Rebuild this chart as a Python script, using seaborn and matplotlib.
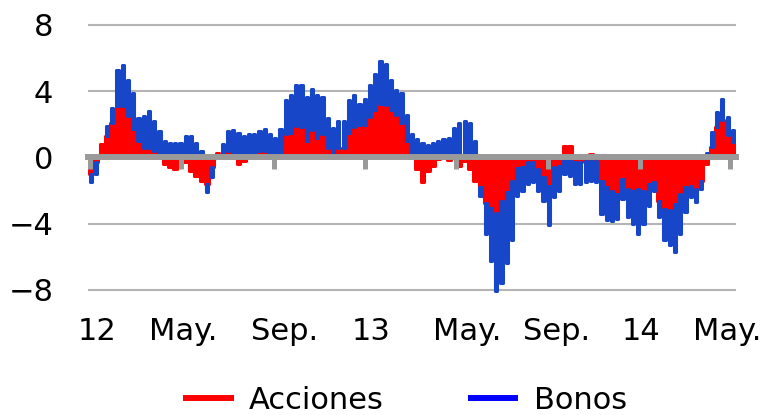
import numpy as np
import pandas as pd
import matplotlib
matplotlib.use("Agg")
import matplotlib.pyplot as plt
import seaborn as sns
from matplotlib.lines import Line2D

# ---------------- data (weekly, starting first week of 2012) ----------------
start_date = "2012-01-02"
acciones = [-1.0, -0.3, 0.8, 1.3, 2.1, 3.1, 3.1, 2.5, 1.7, 1.0,
            0.6, 0.6, 0.4, 0.2, -0.4, -0.6, -0.7, -0.5, -0.3, -0.8,
            -1.1, -1.4, -1.6, -0.6, 0.3, 0.0, 0.4, 0.05, -0.4, -0.2,
            0.0, 0.0, 0.4, 0.4, 0.2, 0.1, 0.0, 1.4, 1.5, 1.9,
            1.85, 1.0, 1.65, 1.2, 1.4, 0.6, 0.0, 0.6, 0.6, 1.5,
            1.85, 1.95, 1.95, 2.45, 2.85, 3.25, 3.15, 2.85, 2.55, 2.1,
            1.0, 0.0, -0.7, -1.5, -0.8, -0.5, -0.1, 0.0, -0.15, 0.0,
            -0.5, -0.2, -0.7, -1.4, -1.8, -2.75, -3.05, -3.35, -2.6, -2.1,
            -1.4, -0.65, -0.6, -0.3, -0.3, -0.7, -1.2, -1.7, -0.6, -0.5,
            0.7, 0.7, -0.3, -0.3, -0.2, 0.2, -0.2, -1.4, -1.8, -2.0,
            -2.2, -1.3, -1.9, -2.0, -1.9, -2.0, -1.6, -1.5, -2.6, -3.1,
            -3.2, -2.8, -2.2, -1.8, -1.7, -1.9, -1.4, -0.4, 0.63, 1.84,
            2.24, 1.33, 0.93]
bonos = [-0.5, -0.7, 0.0, 0.6, 0.9, 2.2, 2.5, 2.2, 2.2, 1.4,
         1.9, 2.2, 1.8, 1.4, 1.0, 0.9, 0.9, 0.9, 1.3, 1.3,
         0.85, 0.4, -0.5, -0.6, 0.0, 0.8, 1.2, 1.6, 1.5, 1.3,
         1.4, 1.4, 1.2, 1.3, 1.2, 1.1, 1.7, 2.05, 2.25, 2.5,
         2.5, 2.65, 2.5, 2.55, 2.25, 1.8, 1.75, 1.6, 1.6, 1.95,
         1.9, 1.3, 1.6, 1.9, 2.2, 2.6, 2.5, 1.8, 1.5, 1.8,
         1.55, 1.4, 1.1, 0.9, 0.75, 0.9, 1.0, 1.1, 1.2, 1.75,
         2.1, 2.2, 2.1, 1.0, -0.5, -1.9, -3.2, -4.7, -5.0, -4.3,
         -3.6, -1.65, -1.4, -1.3, -1.2, -1.3, -1.4, -2.4, -1.8, -1.5,
         -1.0, -1.1, -1.3, -1.3, -1.3, -1.4, -1.3, -2.0, -2.0, -1.85,
         -1.5, -1.2, -1.7, -2.0, -2.75, -2.0, -1.3, -0.5, -1.0, -1.9,
         -2.1, -2.9, -2.4, -1.5, -0.7, -0.8, -0.5, 0.3, 0.9, 0.9,
         1.3, 1.1, 0.7]
tick_dates = ["2012-01-01", "2012-05-01", "2012-09-01", "2013-01-01",
              "2013-05-01", "2013-09-01", "2014-01-01", "2014-05-01"]
label_dates = ["2012-01-10", "2012-05-04", "2012-09-16", "2013-01-09",
               "2013-05-16", "2013-09-13", "2014-01-03", "2014-04-27"]
tick_labels = ["12", "May.", "Sep.", "13", "May.", "Sep.", "14", "May."]
y_ticks = [-8, -4, 0, 4, 8]
series_names = ["Acciones", "Bonos"]

# ---------------- styling ----------------
sns.set_style("white")
plt.rcParams["font.family"] = ["DejaVu Sans"]
plt.rcParams["text.color"] = "black"
plt.rcParams["xtick.color"] = "black"
plt.rcParams["ytick.color"] = "black"
RED = "#FF0000"
BLUE = "#1846C8"
LEG_BLUE = "#0000FF"
GREY = "#9A9A9A"
GRID = "#B4B4B4"
FS = 22

start = pd.Timestamp(start_date)
def to_week(d):
    return (pd.Timestamp(d) - start).days / 7.0

df = pd.DataFrame({"x": np.arange(len(acciones)),
                   "acciones": acciones, "bonos": bonos})
same = np.sign(df["bonos"]) == np.sign(df["acciones"])
df["base"] = np.where(same, df["acciones"], 0.0)

fig = plt.figure(figsize=(7.63, 4.15), dpi=100)
ax = fig.add_axes([0.1153, 0.2933, 0.8494, 0.6545])

r = df[df["acciones"] != 0]
sns.barplot(data=r, x="x", y="acciones", native_scale=True, width=0.7,
            color=RED, saturation=1, errorbar=None, ax=ax)
b = df[df["bonos"] != 0]
sns.barplot(data=b, x="x", y="bonos", native_scale=True, width=0.42,
            bottom=b["base"].to_numpy(), color=BLUE, saturation=1,
            errorbar=None, ax=ax)

# rounded bar ends (thick edge with round joins), like the original
for bars, col, lw in zip(ax.containers, [RED, BLUE], [2.2, 2.2]):
    for p in bars:
        p.set_edgecolor(col)
        p.set_linewidth(lw)
        p.set_joinstyle("round")

ax.set_xlabel("")
ax.set_ylabel("")
ax.set_xlim(-0.6, len(acciones) - 0.4)
ax.set_ylim(-8.2, 8.2)

ax.yaxis.grid(True, color=GRID, linewidth=1.5)
ax.xaxis.grid(False)
ax.set_axisbelow(True)

for s in ["top", "right", "left"]:
    ax.spines[s].set_visible(False)
ax.spines["bottom"].set_position(("data", 0))
ax.spines["bottom"].set_color(GREY)
ax.spines["bottom"].set_linewidth(4.3)
ax.spines["bottom"].set_zorder(5)
ax.xaxis.set_zorder(5)

ax.set_xticks([to_week(d) for d in tick_dates])
ax.set_xticklabels([""] * len(tick_dates))
ax.set_xticks([to_week(d) for d in label_dates], minor=True)
ax.set_xticklabels(tick_labels, minor=True)
ax.tick_params(axis="x", which="major", bottom=True, length=8.6, width=3.6,
               color=GREY, direction="out")
ax.tick_params(axis="x", which="minor", bottom=True, length=0, pad=115,
               labelsize=FS, labelcolor="black")

ax.set_yticks(y_ticks)
ax.set_yticklabels([str(v).replace("-", "\u2212") for v in y_ticks])
ax.tick_params(axis="y", left=False, length=0, pad=25, labelsize=FS,
               labelcolor="black")

handles = [Line2D([], [], color=RED, linewidth=4.3, solid_capstyle="butt"),
           Line2D([], [], color=LEG_BLUE, linewidth=4.3, solid_capstyle="butt")]
leg = fig.legend(handles, series_names, loc="center",
                 bbox_to_anchor=(0.531, 0.036), ncol=2, frameon=False,
                 fontsize=FS, handlelength=1.65, handletextpad=0.5,
                 columnspacing=2.75)
for t in leg.get_texts():
    t.set_color("black")

fig.savefig("out.png", dpi=100)
